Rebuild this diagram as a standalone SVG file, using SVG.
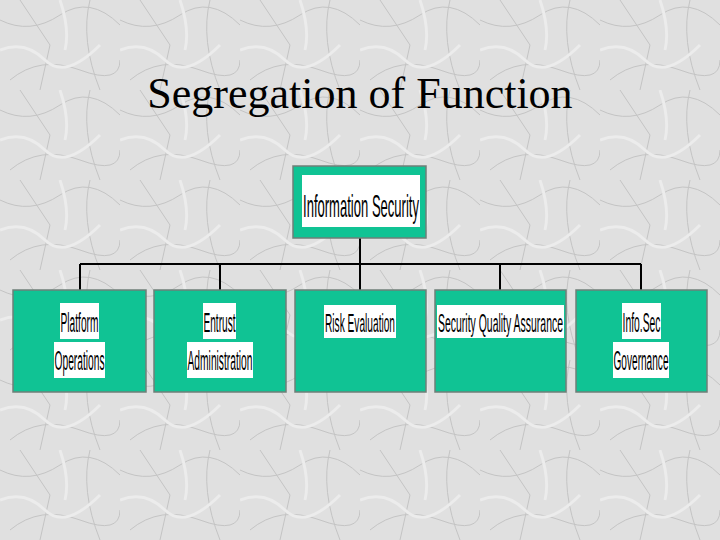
<svg xmlns="http://www.w3.org/2000/svg" width="720" height="540" viewBox="0 0 720 540">
<defs>
<pattern id="marble" width="120" height="90" patternUnits="userSpaceOnUse">
<rect width="120" height="90" fill="#e0e0e0"/>
<path d="M0 20 Q30 35 60 15 T120 25 M10 80 Q40 55 80 70 T120 60 M20 0 L50 45 L40 90 M90 0 Q80 40 100 90" stroke="#c4c4c4" stroke-width="1" fill="none"/>
<path d="M0 50 Q25 40 45 60 T100 45 M60 0 Q70 30 65 50" stroke="#ececec" stroke-width="3" fill="none"/>
</pattern>
<style>
.box{fill:#10c394;stroke:#6f7f78;stroke-width:1.5}
.lbl{fill:#fff}
.t{font-family:"Liberation Sans",Arial,sans-serif;fill:#000;text-anchor:middle}
.c{stroke:#000;stroke-width:2;fill:none}
</style>
</defs>
<rect width="720" height="540" fill="url(#marble)"/>
<text x="360" y="108" font-family="Liberation Serif,Times New Roman,serif" font-size="44" text-anchor="middle" fill="#000">Segregation of Function</text>
<g id="connectors">
<path class="c" d="M360 238V264M80 264H641M80 264V290M220 264V290M360 264V290M500 264V290M641 264V290"/>
</g>
<g id="n0"><rect class="box" x="293" y="166" width="133" height="72"/><rect class="lbl" x="302" y="175" width="118" height="52"/><text class="t" transform="translate(361 217) scale(0.5 1)" font-size="32" textLength="232" lengthAdjust="spacingAndGlyphs">Information Security</text></g>
<g id="n1"><rect class="box" x="13" y="290" width="133" height="102"/><rect class="lbl" x="60" y="303" width="39" height="36"/><rect class="lbl" x="54" y="342" width="51" height="36"/><text class="t" transform="translate(79.500 332) scale(0.5 1)" font-size="28" textLength="76" lengthAdjust="spacingAndGlyphs">Platform</text><text class="t" transform="translate(79.500 370) scale(0.5 1)" font-size="28" textLength="100" lengthAdjust="spacingAndGlyphs">Operations</text></g>
<g id="n2"><rect class="box" x="154" y="290" width="132" height="102"/><rect class="lbl" x="203" y="303" width="33" height="36"/><rect class="lbl" x="187" y="342" width="66" height="36"/><text class="t" transform="translate(219.500 332) scale(0.5 1)" font-size="28" textLength="64" lengthAdjust="spacingAndGlyphs">Entrust</text><text class="t" transform="translate(220 370) scale(0.5 1)" font-size="28" textLength="130" lengthAdjust="spacingAndGlyphs">Administration</text></g>
<g id="n3"><rect class="box" x="295" y="290" width="131" height="102"/><rect class="lbl" x="324" y="305" width="72" height="33"/><text class="t" transform="translate(360 332) scale(0.5 1)" font-size="26" textLength="140" lengthAdjust="spacingAndGlyphs">Risk Evaluation</text></g>
<g id="n4"><rect class="box" x="435" y="290" width="131" height="102"/><rect class="lbl" x="437" y="305" width="127" height="33"/><text class="t" transform="translate(500.500 332) scale(0.5 1)" font-size="26" textLength="250" lengthAdjust="spacingAndGlyphs">Security Quality Assurance</text></g>
<g id="n5"><rect class="box" x="576" y="290" width="131" height="102"/><rect class="lbl" x="622" y="303" width="39" height="36"/><rect class="lbl" x="613" y="342" width="56" height="36"/><text class="t" transform="translate(641.500 332) scale(0.5 1)" font-size="28" textLength="76" lengthAdjust="spacingAndGlyphs">Info.Sec</text><text class="t" transform="translate(641 370) scale(0.5 1)" font-size="28" textLength="110" lengthAdjust="spacingAndGlyphs">Governance</text></g>
</svg>
